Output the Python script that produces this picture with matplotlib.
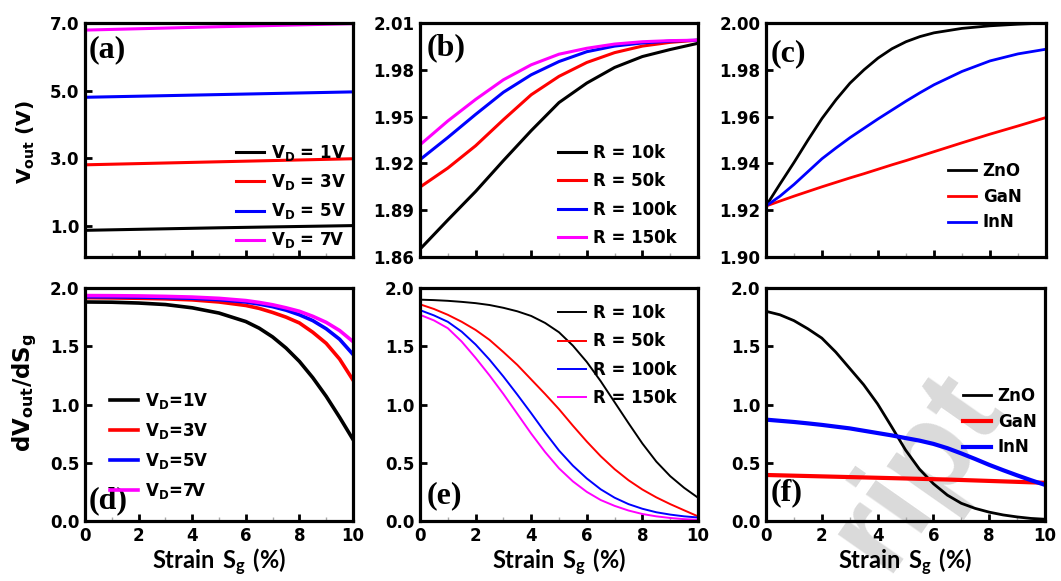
import matplotlib
matplotlib.use('Agg')
import matplotlib.pyplot as plt
from matplotlib.ticker import MultipleLocator, FormatStrFormatter

plt.rcParams['font.family'] = ['DejaVu Sans']
plt.rcParams['font.weight'] = 'bold'

# ---------------- data ----------------
# (a) Vout vs strain for several V_D
xa = [0, 5, 10]
a_1V = [0.86, 0.935, 1.0]
a_3V = [2.80, 2.89, 2.98]
a_5V = [4.80, 4.88, 4.96]
a_7V = [6.79, 6.89, 6.98]
a_labels = ['1V', '3V', '5V', '7V']

# (b) Vout vs strain for several R
xb = [0, 1, 2, 3, 4, 5, 6, 7, 8, 9, 10]
b_10k = [1.8650, 1.8837, 1.9020, 1.9218, 1.9410, 1.9590, 1.9715, 1.9815, 1.9885, 1.9930, 1.9970]
b_50k = [1.9048, 1.9170, 1.9313, 1.9480, 1.9640, 1.9758, 1.9847, 1.9910, 1.9952, 1.9976, 1.9990]
b_100k = [1.9224, 1.9366, 1.9514, 1.9656, 1.9768, 1.9853, 1.9916, 1.9952, 1.9972, 1.9984, 1.9990]
b_150k = [1.9319, 1.9472, 1.9610, 1.9736, 1.9832, 1.9900, 1.9938, 1.9965, 1.9980, 1.9987, 1.9990]
b_labels = ['R = 10k', 'R = 50k', 'R = 100k', 'R = 150k']

# (c) Vout vs strain for materials
xc = [0, 0.5, 1, 1.5, 2, 2.5, 3, 3.5, 4, 4.5, 5, 5.5, 6, 7, 8, 9, 10]
c_ZnO = [1.9218, 1.9312, 1.9404, 1.9500, 1.9592, 1.9672, 1.9743, 1.9800, 1.9850, 1.9890,
         1.9920, 1.9942, 1.9958, 1.9977, 1.9988, 1.9995, 2.0000]
c_GaN = [1.9218, 1.9239, 1.9260, 1.9280, 1.9300, 1.9319, 1.9338, 1.9356, 1.9375, 1.9394,
         1.9412, 1.9431, 1.9450, 1.9488, 1.9525, 1.9560, 1.9596]
c_InN = [1.9218, 1.9260, 1.9310, 1.9365, 1.9420, 1.9466, 1.9510, 1.9550, 1.9590, 1.9628,
         1.9666, 1.9702, 1.9736, 1.9793, 1.9838, 1.9868, 1.9888]
c_labels = ['ZnO', 'GaN', 'InN']

# (d) dVout/dSg for several V_D
xd = [0, 1, 2, 3, 4, 5, 6, 6.5, 7, 7.5, 8, 8.5, 9, 9.5, 10]
d_1V = [1.880, 1.878, 1.871, 1.858, 1.830, 1.785, 1.712, 1.655, 1.580, 1.485, 1.370, 1.230,
        1.070, 0.890, 0.700]
d_3V = [1.917, 1.915, 1.912, 1.907, 1.898, 1.880, 1.850, 1.825, 1.790, 1.750, 1.700, 1.620,
        1.525, 1.390, 1.210]
d_5V = [1.925, 1.924, 1.922, 1.918, 1.912, 1.900, 1.880, 1.862, 1.840, 1.810, 1.770, 1.720,
        1.650, 1.560, 1.430]
d_7V = [1.935, 1.934, 1.932, 1.928, 1.922, 1.911, 1.892, 1.876, 1.856, 1.830, 1.800, 1.757,
        1.705, 1.635, 1.540]
d_labels = ['1V', '3V', '5V', '7V']

# (e) dVout/dSg for several R
xe = [0, 0.5, 1, 1.5, 2, 2.5, 3, 3.5, 4, 4.5, 5, 5.5, 6, 6.5, 7, 7.5, 8, 8.5, 9, 9.5, 10]
e_10k = [1.900, 1.896, 1.890, 1.881, 1.870, 1.854, 1.830, 1.800, 1.760, 1.700, 1.620, 1.505,
         1.365, 1.200, 1.020, 0.840, 0.665, 0.510, 0.385, 0.285, 0.200]
e_50k = [1.860, 1.820, 1.770, 1.710, 1.640, 1.555, 1.450, 1.340, 1.215, 1.090, 0.960, 0.818,
         0.682, 0.556, 0.445, 0.350, 0.270, 0.203, 0.145, 0.092, 0.040]
e_100k = [1.810, 1.765, 1.710, 1.625, 1.515, 1.385, 1.240, 1.085, 0.925, 0.760, 0.605, 0.475,
          0.365, 0.272, 0.200, 0.145, 0.105, 0.075, 0.055, 0.040, 0.030]
e_150k = [1.770, 1.722, 1.655, 1.540, 1.400, 1.250, 1.090, 0.920, 0.750, 0.592, 0.452, 0.340,
          0.250, 0.180, 0.130, 0.090, 0.060, 0.040, 0.026, 0.016, 0.010]
e_labels = ['R = 10k', 'R = 50k', 'R = 100k', 'R = 150k']

# (f) dVout/dSg for materials
xf = [0, 0.5, 1, 1.5, 2, 2.5, 3, 3.5, 4, 4.5, 5, 5.5, 6, 6.5, 7, 7.5, 8, 8.5, 9, 9.5, 10]
f_ZnO = [1.800, 1.770, 1.720, 1.650, 1.570, 1.450, 1.310, 1.170, 1.005, 0.810, 0.610, 0.445,
         0.320, 0.222, 0.152, 0.108, 0.076, 0.052, 0.035, 0.022, 0.015]
f_GaN = [0.395, 0.392, 0.389, 0.386, 0.383, 0.380, 0.377, 0.374, 0.371, 0.368, 0.365, 0.362,
         0.359, 0.356, 0.352, 0.348, 0.344, 0.340, 0.336, 0.332, 0.328]
f_InN = [0.870, 0.860, 0.850, 0.838, 0.825, 0.810, 0.795, 0.775, 0.755, 0.735, 0.712, 0.690,
         0.662, 0.625, 0.580, 0.532, 0.482, 0.436, 0.392, 0.350, 0.310]
f_labels = ['ZnO', 'GaN', 'InN']

colors4 = ['#000000', '#ff0000', '#0000ff', '#ff00ff']
colors3 = ['#000000', '#ff0000', '#0000ff']

# ---------------- figure ----------------
W, H = 1061, 581
fig = plt.figure(figsize=(W / 100, H / 100), dpi=100)

# watermark (partial, as in the reference), drawn beneath everything
fig.text(1003 / W, 1 - 405 / H, 'ript', fontsize=92, color='#dadada',
         rotation=55, rotation_mode='anchor', ha='right', va='baseline',
         family='Liberation Sans', weight='bold', zorder=-5)

TICKFONT = 12
LEGFONT = 12


def ax_at(x1, y1, x2, y2):
    ax = fig.add_axes([x1 / W, 1 - y2 / H, (x2 - x1) / W, (y2 - y1) / H])
    ax.patch.set_alpha(0)
    return ax


def style(ax, ylim, yticks, yfmt, xlab):
    ax.set_xlim(0, 10)
    ax.set_ylim(*ylim)
    ax.set_yticks(yticks)
    ax.yaxis.set_major_formatter(FormatStrFormatter(yfmt))
    ax.set_xticks([0, 2, 4, 6, 8, 10])
    ax.xaxis.set_minor_locator(MultipleLocator(1))
    ax.tick_params(which='major', direction='in', length=5, width=2,
                   top=False, right=False, labelsize=TICKFONT, pad=4)
    ax.tick_params(which='minor', direction='in', length=3, width=1,
                   top=False, right=False, color='#aaaaaa')
    for s in ax.spines.values():
        s.set_linewidth(2.3)
    if xlab:
        ax.set_xlabel(r'$\mathregular{Strain\ S_g\ (\%)}$', family='Lato',
                      weight='bold', fontsize=17)
        ax.xaxis.set_label_coords(0.5, -0.112)
    else:
        ax.set_xticklabels([])


def leg(ax, x, y, spacing):
    return ax.legend(loc='upper left', bbox_to_anchor=(x / W, 1 - y / H),
                     bbox_transform=fig.transFigure, frameon=False, borderpad=0,
                     borderaxespad=0, handlelength=1.7, handletextpad=0.38,
                     labelspacing=spacing,
                     prop={'family': 'DejaVu Sans', 'weight': 'bold', 'size': LEGFONT})


def plabel(ax, s, x, y):
    ax.text(x, y, s, transform=ax.transAxes, family='Liberation Serif',
            weight='bold', fontsize=23, ha='left', va='center')


# (a)
ax = ax_at(85, 23, 353, 257)
for ys, c, l in zip([a_1V, a_3V, a_5V, a_7V], colors4, a_labels):
    ax.plot(xa, ys, color=c, lw=2.2, label=r'$\mathregular{V_D}$ = ' + l)
style(ax, (0.07, 7.0), [1, 3, 5, 7], '%.1f', False)
ax.set_ylabel(r'$\mathregular{V_{out}\ (V)}$', fontsize=14.5, weight='bold')
ax.yaxis.set_label_coords(-0.178, 0.49)
leg(ax, 236, 143, 0.55)
plabel(ax, '(a)', 0.015, 0.885)

# (b)
ax = ax_at(420, 23, 698, 257)
for ys, c, l in zip([b_10k, b_50k, b_100k, b_150k], colors4, b_labels):
    ax.plot(xb, ys, color=c, lw=2.2, label=l)
style(ax, (1.86, 2.01), [1.86, 1.89, 1.92, 1.95, 1.98, 2.01], '%.2f', False)
leg(ax, 558, 144, 0.62)
plabel(ax, '(b)', 0.025, 0.893)

# (c)
ax = ax_at(766, 23, 1046, 257)
for ys, c, l in zip([c_ZnO, c_GaN, c_InN], colors3, c_labels):
    ax.plot(xc, ys, color=c, lw=2.0, label=l)
style(ax, (1.90, 2.00), [1.90, 1.92, 1.94, 1.96, 1.98, 2.00], '%.2f', False)
leg(ax, 948, 162, 0.46)
plabel(ax, '(c)', 0.018, 0.87)

# (d)
ax = ax_at(85, 288, 353, 521)
for ys, c, l in zip([d_1V, d_3V, d_5V, d_7V], colors4, d_labels):
    ax.plot(xd, ys, color=c, lw=2.6, label=r'$\mathregular{V_D}$=' + l)
style(ax, (0, 2.0), [0, 0.5, 1.0, 1.5, 2.0], '%.1f', True)
ax.set_ylabel(r'$\mathregular{dV_{out}/dS_g}$', fontsize=16.5, weight='bold')
ax.yaxis.set_label_coords(-0.17, 0.55)
leg(ax, 110, 391, 0.6)
plabel(ax, '(d)', 0.015, 0.086)

# (e)
ax = ax_at(420, 288, 698, 521)
for ys, c, l in zip([e_10k, e_50k, e_100k, e_150k], colors4, e_labels):
    ax.plot(xe, ys, color=c, lw=1.4, label=l)
style(ax, (0, 2.0), [0, 0.5, 1.0, 1.5, 2.0], '%.1f', True)
leg(ax, 558, 304, 0.62)
plabel(ax, '(e)', 0.025, 0.107)

# (f)
ax = ax_at(766, 288, 1045, 521)
ax.plot(xf, f_ZnO, color=colors3[0], lw=2.0, label=f_labels[0])
ax.plot(xf, f_GaN, color=colors3[1], lw=3.0, label=f_labels[1])
ax.plot(xf, f_InN, color=colors3[2], lw=3.0, label=f_labels[2])
style(ax, (0, 2.0), [0, 0.5, 1.0, 1.5, 2.0], '%.1f', True)
leg(ax, 963, 387, 0.46)
plabel(ax, '(f)', 0.018, 0.12)

fig.savefig('out.png', dpi=100)
